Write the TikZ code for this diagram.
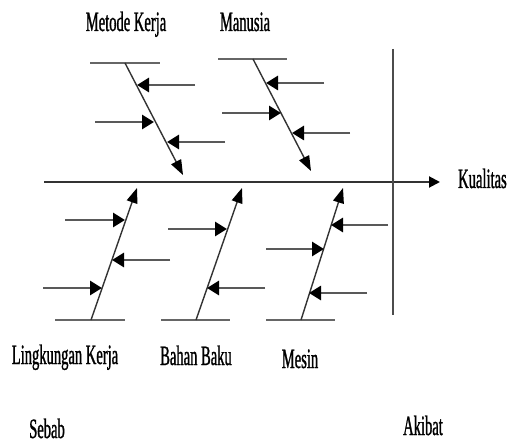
\documentclass[tikz,border=0pt]{standalone}
\usepackage{fontspec}
\setmainfont{Liberation Serif}[FakeStretch=0.52, FakeBold=1]
\usetikzlibrary{arrows.meta}

\tikzset{
  spine/.style={line width=2pt, black!80, -{Triangle[length=11pt,width=11pt,color=black]}},
  divider/.style={line width=1.4pt, black!70},
  bar/.style={line width=2.8pt, black!60},
  bone/.style={line width=1.4pt, black!80, -{Triangle[length=15pt,width=11pt,color=black]}},
  cause/.style={line width=2.8pt, black!65, -{Triangle[length=12pt,width=14pt,color=black]}},
  lbl/.style={font=\fontsize{28}{30}\selectfont, text=black, inner sep=0pt}
}

\begin{document}
\begin{tikzpicture}[x=1pt, y=-1pt]
    \useasboundingbox (0,0) rectangle (510,443);

    % spine
    \coordinate (tail) at (44,182);
    \coordinate (head) at (440,182);
    \draw[spine] (tail) -- (head);
    \node[lbl, anchor=base west] (kualitas) at (458,188) {Kualitas};

    % divider
    \coordinate (divtop) at (393,49);
    \coordinate (divbot) at (393,315);
    \draw[divider] (divtop) -- (divbot);

    % Metode Kerja
    \draw[bar] (90,63) -- (160,63);
    \coordinate (mk1) at (125,63);
    \coordinate (mk2) at (183,175);
    \draw[bone] (mk1) -- (mk2);
    \draw[cause] (195,85) -- (137,85);
    \draw[cause] (95,122) -- (154,122);
    \draw[cause] (225,142) -- (167,142);
    \node[lbl, anchor=base] (metode) at (126,31) {Metode Kerja};

    % Manusia
    \draw[bar] (218,59) -- (287,59);
    \coordinate (ma1) at (253,59);
    \coordinate (ma2) at (311,171);
    \draw[bone] (ma1) -- (ma2);
    \draw[cause] (324,83) -- (266,83);
    \draw[cause] (222,113) -- (281,113);
    \draw[cause] (350,133) -- (292,133);
    \node[lbl, anchor=base] (manusia) at (245,31) {Manusia};

    % Lingkungan Kerja
    \draw[bar] (55,320) -- (125,320);
    \coordinate (lk1) at (91,320);
    \coordinate (lk2) at (137,188);
    \draw[bone] (lk1) -- (lk2);
    \draw[cause] (65,220) -- (125,220);
    \draw[cause] (170,260) -- (112,260);
    \draw[cause] (43,288) -- (102,288);
    \node[lbl, anchor=base] (lingkungan) at (65,364) {Lingkungan Kerja};

    % Bahan Baku
    \draw[bar] (161,320) -- (230,320);
    \coordinate (bb1) at (196,320);
    \coordinate (bb2) at (242,188);
    \draw[bone] (bb1) -- (bb2);
    \draw[cause] (168,229) -- (227,229);
    \draw[cause] (265,288) -- (207,288);
    \node[lbl, anchor=base] (bahan) at (196,365) {Bahan Baku};

    % Mesin
    \draw[bar] (266,320) -- (335,320);
    \coordinate (me1) at (301,320);
    \coordinate (me2) at (343,188);
    \draw[bone] (me1) -- (me2);
    \draw[cause] (388,225) -- (331,225);
    \draw[cause] (266,249) -- (324,249);
    \draw[cause] (367,293) -- (309,293);
    \node[lbl, anchor=base] (mesin) at (300,368) {Mesin};

    % Sebab / Akibat
    \node[lbl, anchor=base] (sebab) at (47,438) {Sebab};
    \node[lbl, anchor=base] (akibat) at (423,435) {Akibat};
\end{tikzpicture}
\end{document}
